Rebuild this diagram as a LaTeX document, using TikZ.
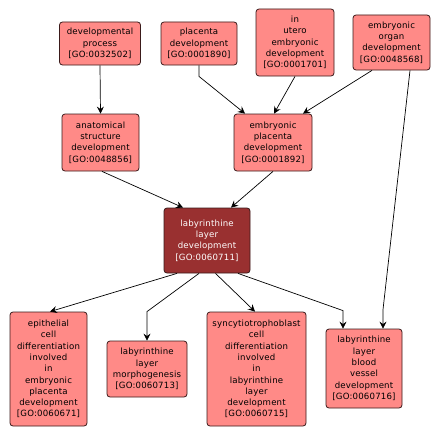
\documentclass[tikz,border=0pt]{standalone}
\usepackage{fontspec}
\setmainfont{DejaVu Sans}[LetterSpace=2]
\usetikzlibrary{arrows.meta}
\definecolor{lightbox}{HTML}{FF8A87}
\definecolor{darkbox}{HTML}{993030}
\definecolor{boxline}{HTML}{3A1A1A}
\begin{document}
\begin{tikzpicture}[x=1pt,y=-1pt,
  goterm/.style={draw=boxline, line width=0.8pt, rounded corners=3pt, fill=lightbox,
    inner sep=0pt, align=center, font=\fontsize{8.6}{11.3}\selectfont},
  goterm dark/.style={goterm, fill=darkbox, text=white},
  link/.style={draw=black, line width=0.7pt, -{Stealth[length=7pt,width=7pt,inset=2.5pt]}}]
\useasboundingbox (0,0) rectangle (441,436);
\fill[white] (0,0) rectangle (441,436);
\node[goterm, minimum width=81pt, minimum height=43pt] (dp) at (100,43.5) {developmental\\process\\{[GO:0032502]}};
\node[goterm, minimum width=76pt, minimum height=43pt] (pd) at (199,43.5) {placenta\\development\\{[GO:0001890]}};
\node[goterm, minimum width=78pt, minimum height=67pt] (iu) at (295,42.5) {in\\utero\\embryonic\\development\\{[GO:0001701]}};
\node[goterm, minimum width=77pt, minimum height=55pt] (eo) at (391.5,42.5) {embryonic\\organ\\development\\{[GO:0048568]}};
\node[goterm, minimum width=77pt, minimum height=57pt] (asd) at (100.5,142.5) {anatomical\\structure\\development\\{[GO:0048856]}};
\node[goterm, minimum width=78pt, minimum height=57pt] (epd) at (273,142.5) {embryonic\\placenta\\development\\{[GO:0001892]}};
\node[goterm dark, minimum width=86pt, minimum height=65pt] (lld) at (207,240.5) {labyrinthine\\layer\\development\\{[GO:0060711]}};
\node[goterm, minimum width=77pt, minimum height=114pt] (ep) at (48.5,369) {epithelial\\cell\\differentiation\\involved\\in\\embryonic\\placenta\\development\\{[GO:0060671]}};
\node[goterm, minimum width=80pt, minimum height=56pt] (mo) at (147,369) {labyrinthine\\layer\\morphogenesis\\{[GO:0060713]}};
\node[goterm, minimum width=99pt, minimum height=114pt] (sy) at (256.5,369) {syncytiotrophoblast\\cell\\differentiation\\involved\\in\\labyrinthine\\layer\\development\\{[GO:0060715]}};
\node[goterm, minimum width=76pt, minimum height=79pt] (bv) at (364,368.5) {labyrinthine\\layer\\blood\\vessel\\development\\{[GO:0060716]}};
% connectors
\draw[link] (dp.south) -- (asd.north);
\draw[link] (pd.south) -- ++(0,11) -- ([xshift=-28pt]epd.north);
\draw[link] (iu.south) -- ([xshift=1pt]epd.north);
\draw[link] ([xshift=-19.5pt]eo.south) -- ([xshift=30pt]epd.north);
\draw[link] ([xshift=18.5pt]eo.south) -- ([xshift=19pt,yshift=19pt]bv.north) -- ([xshift=19pt]bv.north);
\draw[link] ([xshift=1.5pt]asd.south) -- ([xshift=-24pt]lld.north);
\draw[link] (epd.south) -- ([xshift=24pt]lld.north);
\draw[link] ([xshift=-30pt]lld.south) -- ([xshift=1.5pt]ep.north);
\draw[link] ([xshift=-8pt]lld.south) -- ([yshift=29pt]mo.north) -- (mo.north);
\draw[link] ([xshift=8.5pt]lld.south) -- ([xshift=-1.5pt]sy.north);
\draw[link] ([xshift=31pt]lld.south) -- ([xshift=-21pt,yshift=18pt]bv.north) -- ([xshift=-21pt]bv.north);
\end{tikzpicture}
\end{document}
